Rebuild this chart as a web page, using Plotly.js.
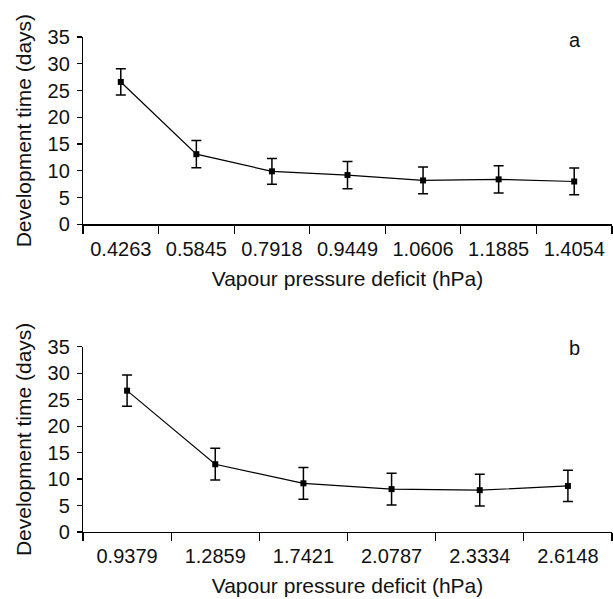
<!DOCTYPE html>
<html>
<head>
<meta charset="utf-8">
<script src="https://cdn.plot.ly/plotly-3.0.1.min.js"></script>
<style>
  html, body { margin: 0; padding: 0; background: #ffffff; }
  #chart { width: 613px; height: 599px; }
</style>
</head>
<body>
<div id="chart"></div>
<script>
// Panel a
var vpdA = ['0.4263', '0.5845', '0.7918', '0.9449', '1.0606', '1.1885', '1.4054'];
var devA = [26.6, 13.1, 9.9, 9.2, 8.2, 8.4, 8.0];
var errA = [2.45, 2.55, 2.4, 2.55, 2.5, 2.55, 2.5];

// Panel b
var vpdB = ['0.9379', '1.2859', '1.7421', '2.0787', '2.3334', '2.6148'];
var devB = [26.7, 12.8, 9.2, 8.1, 7.9, 8.7];
var errB = [2.95, 3.0, 3.0, 3.0, 3.0, 2.95];

var yTicks = [0, 5, 10, 15, 20, 25, 30, 35];
var xTitle = 'Vapour pressure deficit (hPa)';
var yTitle = 'Development time (days)';
var panelLabels = ['a', 'b'];

var FONT = 'Liberation Sans, Arial, Helvetica, sans-serif';

function series(x, y, err, xa, ya) {
  return {
    type: 'scatter', mode: 'lines+markers',
    x: x, y: y, xaxis: xa, yaxis: ya,
    line: { color: '#000000', width: 1.2 },
    marker: { symbol: 'square', size: 6, color: '#000000' },
    error_y: { type: 'data', array: err, visible: true, color: '#000000', thickness: 1.5, width: 5 },
    showlegend: false, cliponaxis: false
  };
}

function xAxis(cats, anchor) {
  return {
    type: 'category', anchor: anchor,
    categoryorder: 'array', categoryarray: cats,
    range: [-0.5, cats.length - 0.5],
    tickson: 'boundaries', ticks: 'outside', ticklen: 8, tickwidth: 1.2, tickcolor: '#000',
    showline: true, linecolor: '#000', linewidth: 1.2,
    showgrid: false, zeroline: false,
    ticklabelstandoff: 6,
    tickfont: { family: FONT, size: 20, color: '#111' },
    title: { text: xTitle, font: { family: FONT, size: 21, color: '#111' }, standoff: 12 },
    fixedrange: true
  };
}

function yAxis(domain, anchor) {
  return {
    domain: domain, anchor: anchor,
    range: [0, 35], tickvals: yTicks, ticktext: yTicks.map(String),
    ticks: 'outside', ticklen: 5, tickwidth: 1.2, tickcolor: '#000',
    showline: true, linecolor: '#000', linewidth: 1.2,
    showgrid: false, zeroline: false,
    ticklabelstandoff: 3,
    tickfont: { family: FONT, size: 20, color: '#111' },
    title: { text: yTitle, font: { family: FONT, size: 21, color: '#111' }, standoff: 10 },
    fixedrange: true
  };
}

var data = [
  series(vpdA, devA, errA, 'x', 'y'),
  series(vpdB, devB, errB, 'x2', 'y2')
];

var layout = {
  width: 613, height: 599,
  margin: { l: 83, r: 1, t: 37, b: 67 },
  paper_bgcolor: '#ffffff', plot_bgcolor: '#ffffff',
  font: { family: FONT, color: '#111' },
  xaxis: xAxis(vpdA, 'y'),
  yaxis: yAxis([0.6216, 1], 'x'),
  xaxis2: xAxis(vpdB, 'y2'),
  yaxis2: yAxis([0, 0.3743], 'x2'),
  annotations: [
    { text: panelLabels[0], xref: 'paper', yref: 'paper', x: 0.930, y: 0.9937,
      xanchor: 'center', yanchor: 'middle', showarrow: false,
      font: { family: FONT, size: 20, color: '#111' } },
    { text: panelLabels[1], xref: 'paper', yref: 'paper', x: 0.930, y: 0.3715,
      xanchor: 'center', yanchor: 'middle', showarrow: false,
      font: { family: FONT, size: 20, color: '#111' } }
  ]
};

Plotly.newPlot('chart', data, layout, { displayModeBar: false, staticPlot: true });
</script>
</body>
</html>
